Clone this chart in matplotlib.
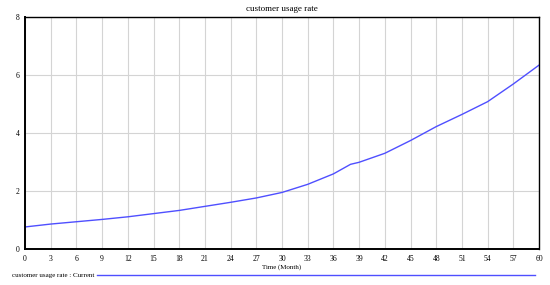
import matplotlib.pyplot as plt
from matplotlib.lines import Line2D

plt.rcParams["font.family"] = ["Liberation Serif", "DejaVu Serif"]

months = [0, 3, 6, 9, 12, 15, 18, 21, 24, 27, 30, 33, 36, 38, 39, 42, 45, 48, 51, 54, 57, 60]
usage_rate = [0.76, 0.86, 0.94, 1.02, 1.11, 1.22, 1.33, 1.47, 1.61, 1.76, 1.95, 2.23, 2.59,
              2.92, 2.99, 3.30, 3.74, 4.22, 4.64, 5.08, 5.69, 6.34]
x_ticks = list(range(0, 61, 3))
y_ticks = [0, 2, 4, 6, 8]

fig = plt.figure(figsize=(5.5, 2.85), dpi=100)
ax = fig.add_axes([25 / 550, 1 - 249 / 285, 514 / 550, 232 / 285])

ax.plot(months, usage_rate, color="#4f4fff", linewidth=1.0)
ax.set_xlim(0, 60)
ax.set_ylim(0, 8)
ax.set_xticks(x_ticks)
ax.set_yticks(y_ticks)
ax.grid(color="#d4d4d4", linewidth=0.8)
ax.tick_params(length=0, labelsize=5.5, pad=4)
for side in ["left", "bottom"]:
    ax.spines[side].set_linewidth(1.4)
for side in ["top", "right"]:
    ax.spines[side].set_linewidth(1.0)

ax.set_title("customer usage rate", fontsize=6.5, pad=4)
ax.set_xlabel("Time (Month)", fontsize=5, labelpad=1.5)

fig.text(12 / 550, 1 - 275 / 285, "customer usage rate : Current", fontsize=5, va="center")
fig.add_artist(Line2D([97 / 550, 535 / 550], [1 - 275 / 285, 1 - 275 / 285],
                      color="#4f4fff", linewidth=1.0, transform=fig.transFigure))

fig.savefig("out.png", dpi=100)
